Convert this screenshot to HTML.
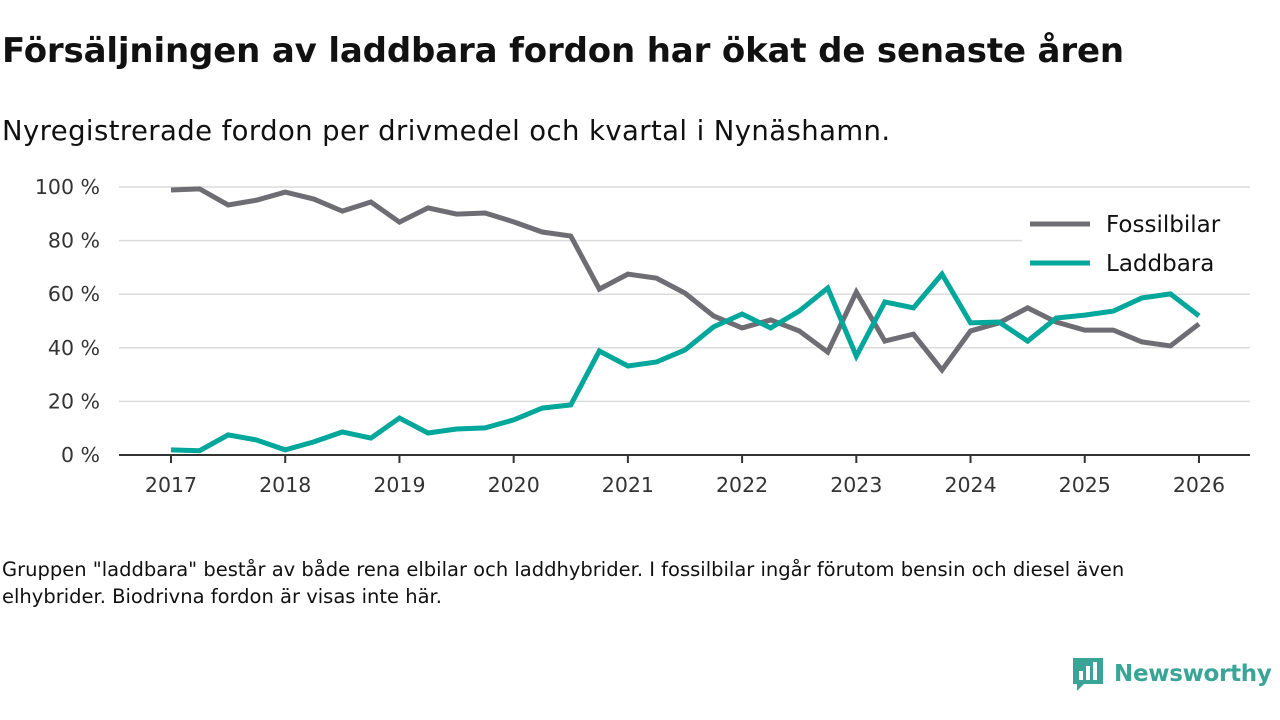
<!DOCTYPE html>
<html><head><meta charset="utf-8">
<style>
body{margin:0;width:1280px;height:720px;background:#fff;font-family:"DejaVu Sans","Liberation Sans",sans-serif;color:#111;overflow:hidden;position:relative}
#title{position:absolute;left:2px;top:31px;font-size:34px;font-weight:bold;margin:0;letter-spacing:-0.15px}
#subtitle{position:absolute;left:2px;top:115px;font-size:27.5px;letter-spacing:0.4px}
#note{position:absolute;left:2px;top:556px;font-size:19.5px;line-height:27px;width:1215px}
#logo{position:absolute;left:1070px;top:656px;display:flex;align-items:center;color:#3aa597;font-weight:bold;font-size:23px;white-space:nowrap;letter-spacing:-0.3px}
svg text{font-family:"DejaVu Sans","Liberation Sans",sans-serif}
</style></head><body>
<h1 id="title">Försäljningen av laddbara fordon har ökat de senaste åren</h1>
<div id="subtitle">Nyregistrerade fordon per drivmedel och kvartal i Nynäshamn.</div>
<svg id="chart" width="1280" height="720" style="position:absolute;left:0;top:0"></svg>
<div id="note">Gruppen "laddbara" består av både rena elbilar och laddhybrider. I fossilbilar ingår förutom bensin och diesel även elhybrider. Biodrivna fordon är visas inte här.</div>
<div id="logo">
<svg width="36" height="36" viewBox="0 0 36 36" style="margin-right:8px"><path d="M3 2h30v26H14l-7 7v-7H3z" fill="#3aa597"/><rect x="9" y="15" width="4" height="9" fill="#fff"/><rect x="16" y="10" width="4" height="14" fill="#fff"/><rect x="23" y="6" width="4" height="18" fill="#fff"/></svg>Newsworthy</div>
<script>
const fossil=[98.9,99.3,93.3,95.1,98.1,95.5,91,94.4,86.9,92.2,89.9,90.3,87,83.2,81.7,61.9,67.5,66,60.4,51.9,47.4,50.4,46.3,38.4,60.8,42.5,45.1,31.7,46.3,49.3,54.9,49.6,46.6,46.6,42.2,40.7,48.9];
const laddbara=[1.9,1.6,7.5,5.6,1.9,4.9,8.6,6.3,13.8,8.2,9.7,10.1,13.1,17.5,18.7,38.8,33.2,34.7,39.2,47.8,52.6,47.4,53.7,62.3,36.9,57.1,54.9,67.5,49.3,49.6,42.5,51.1,52.2,53.7,58.6,60.1,51.9];
const startYear=2017;
const yTicks=[0,20,40,60,80,100];
const xTicks=[2017,2018,2019,2020,2021,2022,2023,2024,2025,2026];
const NS="http://www.w3.org/2000/svg";
const svg=document.getElementById('chart');
const x=t=>171+(t-2017)*114.22;
const y=v=>455-v*2.68;
function mk(tag,attrs){const e=document.createElementNS(NS,tag);for(const k in attrs)e.setAttribute(k,attrs[k]);svg.appendChild(e);return e;}
yTicks.forEach(v=>{
 if(v>0){const g=mk('line',{x1:119,x2:1250,y1:y(v),y2:y(v),stroke:'#dcdcdc','stroke-width':1.5});
 
 }
 const t=mk('text',{x:100,y:y(v)+7,'text-anchor':'end','font-size':20.5,fill:'#333'});t.textContent=v+' %';
 
 
});
const ax=mk('line',{x1:119,x2:1250,y1:455,y2:455,stroke:'#333','stroke-width':2});


xTicks.forEach(yr=>{
 const tk=mk('line',{x1:x(yr),x2:x(yr),y1:455,y2:463,stroke:'#333','stroke-width':2});
 
 
 const t=mk('text',{x:x(yr),y:492,'text-anchor':'middle','font-size':20.5,fill:'#333'});t.textContent=yr;
 
 
});
function line(data,color,name){
 const pts=data.map((v,i)=>x(startYear+i/4)+','+y(v)).join(' ');
 const p=mk('polyline',{points:pts,fill:'none',stroke:color,'stroke-width':5,'stroke-linejoin':'miter'});
 
 
}
line(fossil,'#6e6d73','fossilbilar-line');
line(laddbara,'#00a79a','laddbara-line');
const lb=mk('rect',{x:1022,y:208,width:228,height:76,fill:'#fff'});


[['Fossilbilar','#6e6d73',224],['Laddbara','#00a79a',263]].forEach(([n,c,yy])=>{
 const l=mk('line',{x1:1030,x2:1090,y1:yy,y2:yy,stroke:c,'stroke-width':5});
 
 
 const t=mk('text',{x:1106,y:yy+8,'font-size':23,fill:'#111'});t.textContent=n;
 
 
});
</script>
</body></html>
